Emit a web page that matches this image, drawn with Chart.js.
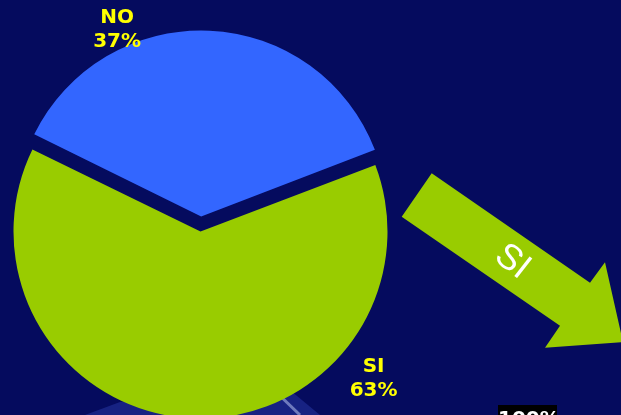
<!DOCTYPE html>
<html>
<head>
<meta charset="UTF-8">
<title>pie_si_no.html</title>
<script src="https://cdn.jsdelivr.net/npm/chart.js"></script>
<style>
  html, body {
    margin: 0;
    padding: 0;
    width: 621px;
    height: 415px;
    overflow: hidden;
    background: #050b5e;
  }
  .wrap {
    position: relative;
    width: 621px;
    height: 415px;
  }
  #tag100 {
    position: absolute;
    left: 498px;
    top: 405px;
    width: 59px;
    height: 24px;
    background: #000;
    color: #fff;
    font: bold 20px "DejaVu Sans", sans-serif;
    line-height: 26px;
    text-align: center;
  }
</style>
</head>

<body>
<div class="wrap">
  <canvas id="pieChart" width="621" height="415"></canvas>
  <div id="tag100">100%</div>
</div>

<script>
    // データ
    const categories = ['NO', 'SI'];
    const percents = [37, 63];
    const arrowText = 'SI';

    const sliceColors = ['#3366ff', '#99cc00'];

    // ラベル位置（円の中心からの角度・距離）
    const labelPlace = [
        { angle: -112.5, dist: 218 },
        { angle: 40.3, dist: 227 }
    ];

    // 背景の飾り（矢印など）
    const decoPlugin = {
        id: 'deco',
        beforeDatasetsDraw(chart) {
            const ctx = chart.ctx;
            // 飛び出したNOの扇形は少し小さめ（元画像に合わせる）
            const arcs = chart.getDatasetMeta(0).data;
            arcs[0].outerRadius = chart.options.radius - 5;

            ctx.save();
            // 下の写真っぽい部分
            ctx.fillStyle = 'rgba(35, 50, 155, 0.6)';
            ctx.beginPath();
            ctx.moveTo(85, 415);
            ctx.lineTo(120, 402);
            ctx.lineTo(285, 386);
            ctx.lineTo(320, 415);
            ctx.closePath();
            ctx.fill();
            ctx.strokeStyle = 'rgba(150, 160, 215, 0.7)';
            ctx.lineWidth = 3;
            ctx.beginPath();
            ctx.moveTo(274, 390);
            ctx.lineTo(300, 415);
            ctx.stroke();

            // 矢印
            ctx.fillStyle = '#99cc00';
            ctx.beginPath();
            ctx.moveTo(431.7, 173.3);
            ctx.lineTo(590, 282.7);
            ctx.lineTo(605, 262.3);
            ctx.lineTo(623, 342);
            ctx.lineTo(545, 347.7);
            ctx.lineTo(560, 325.7);
            ctx.lineTo(401.7, 216.7);
            ctx.closePath();
            ctx.fill();

            ctx.translate(513, 261);
            ctx.rotate(38 * Math.PI / 180);
            ctx.fillStyle = '#ffffff';
            ctx.font = '36px "Liberation Sans", Arial, sans-serif';
            ctx.textAlign = 'center';
            ctx.textBaseline = 'middle';
            ctx.fillText(arrowText, 0, 1);
            ctx.restore();
        },
        afterDatasetsDraw(chart) {
            const ctx = chart.ctx;
            const arcs = chart.getDatasetMeta(0).data;
            ctx.save();
            ctx.fillStyle = '#ffff00';
            ctx.font = 'bold 20px "DejaVu Sans", sans-serif';
            ctx.textAlign = 'center';
            ctx.textBaseline = 'middle';
            arcs.forEach(function (arc, i) {
                const p = labelPlace[i];
                const a = p.angle * Math.PI / 180;
                const x = arc.x + Math.cos(a) * p.dist;
                const y = arc.y + Math.sin(a) * p.dist;
                ctx.fillText(categories[i], x, y - 12);
                ctx.fillText(percents[i] + '%', x, y + 12);
            });
            ctx.restore();
        }
    };

    const config = {
        type: 'pie',
        data: {
            labels: categories,
            datasets: [{
                data: percents,
                backgroundColor: sliceColors,
                borderWidth: 0,
                offset: [60, 0]
            }]
        },
        options: {
            responsive: false,
            animation: false,
            rotation: -64,
            radius: 187,
            layout: {
                padding: { left: 0, right: 220, top: 48, bottom: 0 }
            },
            plugins: {
                legend: { display: false },
                tooltip: { enabled: false }
            }
        },
        plugins: [decoPlugin]
    };

    const ctx = document.getElementById('pieChart').getContext('2d');
    new Chart(ctx, config);
</script>
</body>
</html>
